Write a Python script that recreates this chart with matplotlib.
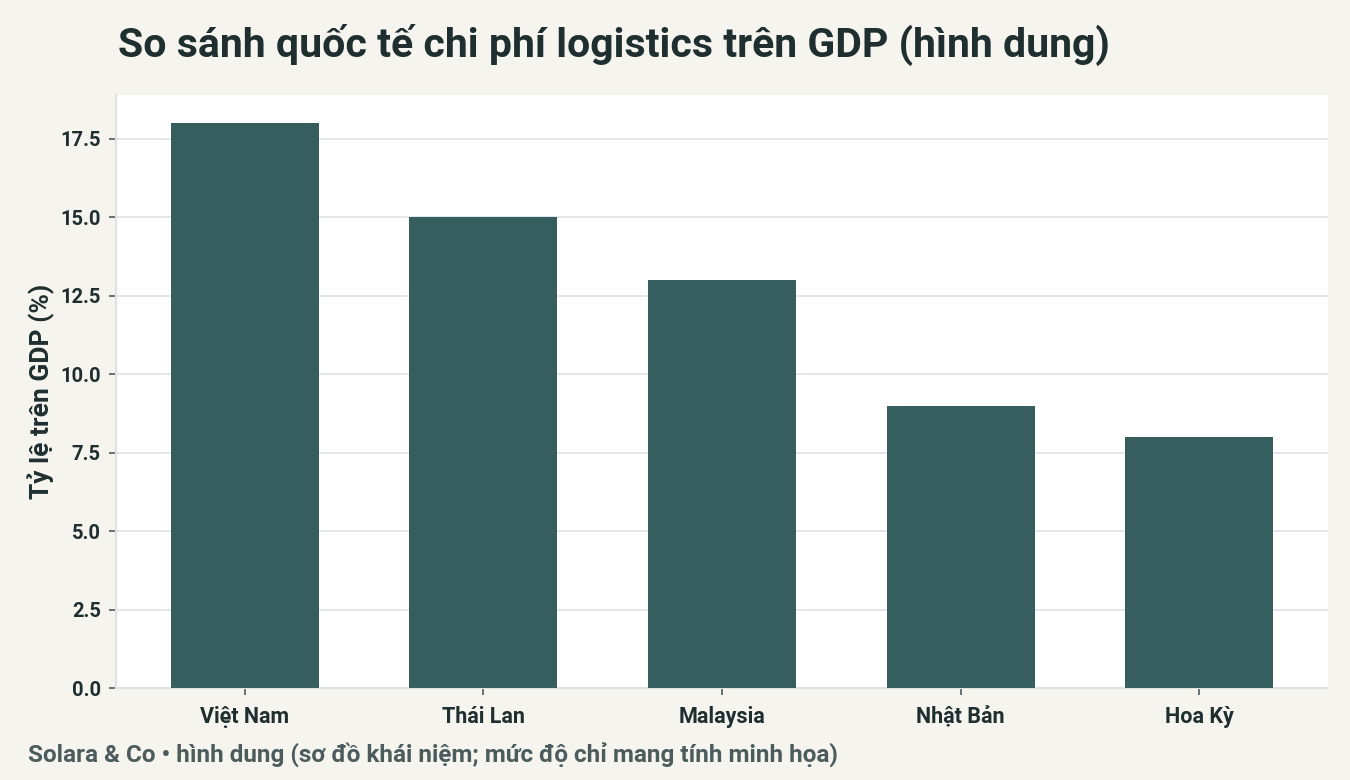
import matplotlib
matplotlib.use("Agg")
import matplotlib.pyplot as plt

plt.rcParams["font.family"] = ["Roboto", "DejaVu Sans"]

# ---------------- data ----------------
countries = ["Việt Nam", "Thái Lan", "Malaysia", "Nhật Bản", "Hoa Kỳ"]
share_gdp = [18, 15, 13, 9, 8]
yticks = [0.0, 2.5, 5.0, 7.5, 10.0, 12.5, 15.0, 17.5]

BG = "#f5f4ef"
BAR = "#375e5f"
DARK = "#1f2e2e"
GRID = "#dde3e3"
MUTED = "#4c5c5c"

fig = plt.figure(figsize=(13.5, 7.8), dpi=100, facecolor=BG)
ax = fig.add_axes([116/1350, 1 - 688/780, (1328-116)/1350, (688-95)/780])
ax.set_facecolor("white")

ax.bar(range(len(countries)), share_gdp, width=0.62, color=BAR, zorder=3)

ax.set_xlim(-0.54, 4.54)
ax.set_ylim(0, 18.9)
ax.set_yticks(yticks)
ax.set_yticklabels([f"{v:.1f}" for v in yticks])
ax.set_xticks(range(len(countries)))
ax.set_xticklabels(countries)
ax.yaxis.grid(True, color=GRID, linewidth=1.2, zorder=0)
ax.xaxis.grid(False)

for s in ["top", "right"]:
    ax.spines[s].set_visible(False)
for s in ["left", "bottom"]:
    ax.spines[s].set_color(GRID)
    ax.spines[s].set_linewidth(1.5)

ax.tick_params(axis="both", colors=MUTED, length=5, width=1.2, labelcolor=DARK)
ax.tick_params(axis="x", labelsize=15.5, pad=8)
ax.tick_params(axis="y", labelsize=14.5, pad=6)
for lab in ax.get_xticklabels() + ax.get_yticklabels():
    lab.set_fontweight("bold")

ax.set_ylabel("Tỷ lệ trên GDP (%)", fontsize=19, fontweight="bold",
              color=DARK, labelpad=4)

fig.text(118/1350, 1 - 45/780, "So sánh quốc tế chi phí logistics trên GDP (hình dung)",
         fontsize=29.5, fontweight="bold", color=DARK, va="center", ha="left")
fig.text(28/1350, 1 - 755/780,
         "Solara & Co • hình dung (sơ đồ khái niệm; mức độ chỉ mang tính minh họa)",
         fontsize=17.5, fontweight="bold", color=MUTED, va="center", ha="left")

fig.savefig("out.png", dpi=100, facecolor=BG)
